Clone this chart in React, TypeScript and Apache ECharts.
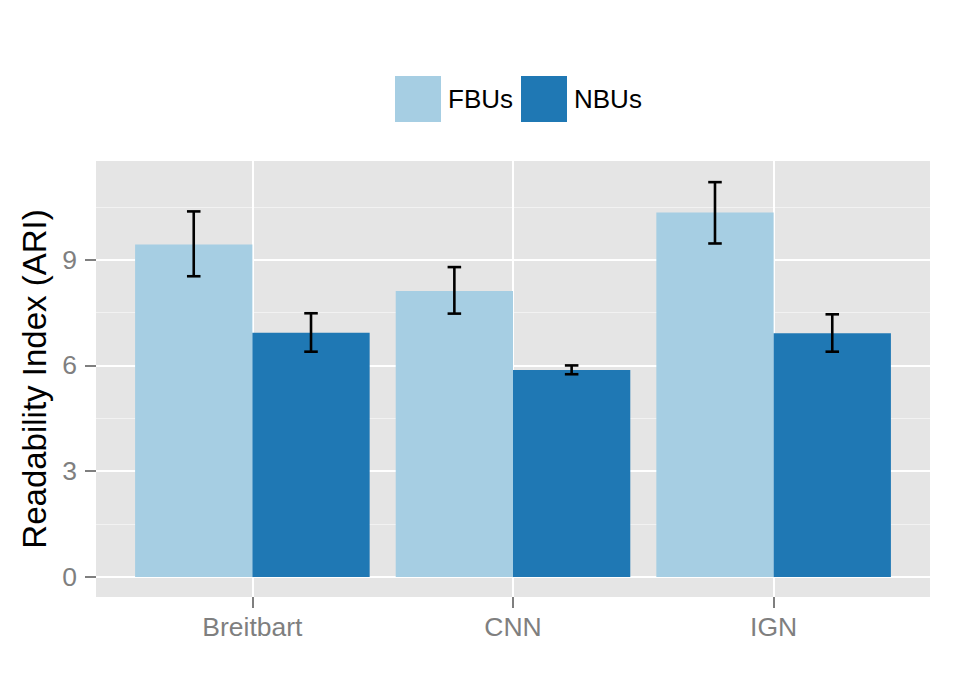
import React, { useEffect, useRef } from "react";
import * as echarts from "echarts";

const categories = ["Breitbart", "CNN", "IGN"];
const seriesNames = ["FBUs", "NBUs"];
const fbuValues = [9.43, 8.11, 10.34];
const fbuLow = [8.53, 7.47, 9.46];
const fbuHigh = [10.37, 8.79, 11.2];
const nbuValues = [6.93, 5.87, 6.91];
const nbuLow = [6.39, 5.75, 6.39];
const nbuHigh = [7.48, 6.0, 7.45];
const yMajorTicks = [0, 3, 6, 9];
const yMinorTicks = [1.5, 4.5, 7.5, 10.5];

const colors = ["#A6CEE3", "#1F78B4"];

export default function App() {
  const ref = useRef<HTMLDivElement>(null);
  useEffect(() => {
    document.body.style.margin = "0";
    if (!ref.current) return;
    const chart = echarts.init(ref.current, null, { renderer: "svg" });
    const catPos = categories.map((_, i) => i + 1);
    const dodge = 0.45;
    const makeData = (vals: number[], lo: number[], hi: number[]) =>
      vals.map((v, i) => [catPos[i], v, lo[i], hi[i]]);
    const barSeries = (name: string, idx: number, data: number[][]) => ({
      name,
      type: "custom",
      itemStyle: { color: colors[idx] },
      encode: { x: 0, y: 1 },
      data,
      z: 2,
      renderItem: (params: any, api: any) => {
        const x = api.value(0);
        const v = api.value(1);
        const lo = api.value(2);
        const hi = api.value(3);
        const x0 = idx === 0 ? x - dodge : x;
        const x1 = idx === 0 ? x : x + dodge;
        const p0 = api.coord([x0, v]);
        const p1 = api.coord([x1, 0]);
        const xc = api.coord([(x0 + x1) / 2, 0])[0];
        const half = api.size([1, 0])[0] * 0.026;
        const pl = api.coord([x, lo])[1];
        const ph = api.coord([x, hi])[1];
        const lineStyle = { stroke: "#000000", lineWidth: 2.6 };
        return {
          type: "group",
          children: [
            {
              type: "rect",
              shape: { x: p0[0], y: p0[1], width: p1[0] - p0[0], height: p1[1] - p0[1] },
              style: { fill: colors[idx] },
            },
            { type: "line", shape: { x1: xc, y1: pl, x2: xc, y2: ph }, style: lineStyle },
            { type: "line", shape: { x1: xc - half, y1: ph, x2: xc + half, y2: ph }, style: lineStyle },
            { type: "line", shape: { x1: xc - half, y1: pl, x2: xc + half, y2: pl }, style: lineStyle },
          ],
        };
      },
    });
    chart.setOption({
      animation: false,
      textStyle: { fontFamily: "Liberation Sans" },
      legend: {
        data: seriesNames.map((n) => ({ name: n, icon: "rect" })),
        left: 395,
        top: 76,
        itemWidth: 46,
        itemHeight: 46,
        itemGap: 8,
        padding: 0,
        textStyle: { fontSize: 26, color: "#000000", fontFamily: "Liberation Sans", padding: [0, 0, 0, 2] },
      },
      grid: {
        left: 96,
        right: 39,
        top: 161,
        bottom: 100,
        show: true,
        backgroundColor: "#E5E5E5",
        borderWidth: 0,
      },
      xAxis: {
        type: "value",
        min: 0.4,
        max: 3.6,
        axisLine: { show: false, onZero: false },
        axisTick: {
          show: true,
          customValues: catPos,
          length: 11,
          lineStyle: { color: "#7F7F7F", width: 2 },
        },
        axisLabel: {
          customValues: catPos,
          formatter: (v: number) => categories[Math.round(v) - 1] ?? "",
          color: "#7F7F7F",
          fontSize: 26.5,
          margin: 16,
          fontFamily: "Liberation Sans",
        },
        splitLine: { show: true, lineStyle: { color: "#FFFFFF", width: 2 } },
      },
      yAxis: [
        {
          type: "value",
          min: -0.57,
          max: 11.8,
          name: "Readability Index (ARI)",
          nameLocation: "middle",
          nameGap: 44,
          nameTextStyle: { fontSize: 33, color: "#000000", fontFamily: "Liberation Sans" },
          axisLine: { show: false, onZero: false },
          axisTick: {
            show: true,
            customValues: yMajorTicks,
            length: 11,
            lineStyle: { color: "#7F7F7F", width: 2 },
          },
          axisLabel: {
            customValues: yMajorTicks,
            color: "#7F7F7F",
            fontSize: 26.5,
            margin: 19,
            fontFamily: "Liberation Sans",
          },
          splitLine: { show: true, lineStyle: { color: "#FFFFFF", width: 2 } },
        },
        {
          type: "value",
          min: -0.57,
          max: 11.8,
          position: "left",
          axisLine: { show: false, onZero: false },
          axisTick: { show: false, customValues: yMinorTicks },
          axisLabel: { show: false, customValues: yMinorTicks },
          splitLine: { show: true, lineStyle: { color: "#F2F2F2", width: 1 } },
        },
      ],
      series: [
        barSeries(seriesNames[0], 0, makeData(fbuValues, fbuLow, fbuHigh)),
        barSeries(seriesNames[1], 1, makeData(nbuValues, nbuLow, nbuHigh)),
      ],
    });
    return () => chart.dispose();
  }, []);
  return <div ref={ref} style={{ width: 969, height: 697 }} />;
}
